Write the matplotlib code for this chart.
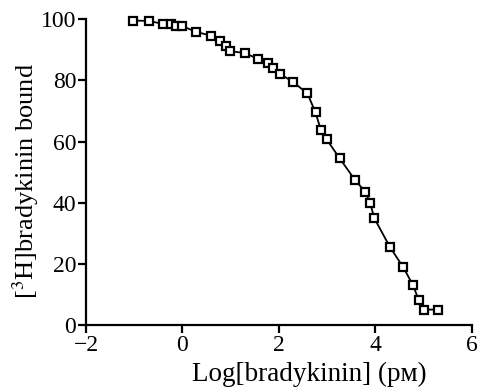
import numpy as np
import matplotlib
matplotlib.use('Agg')
import matplotlib.pyplot as plt

# Log[bradykinin] (pM) and percent [3H]bradykinin bound
log_bk = [-1.03, -0.70, -0.40, -0.24, -0.14, 0.00, 0.28, 0.59, 0.78, 0.90,
          0.99, 1.30, 1.57, 1.77, 1.87, 2.02, 2.29, 2.59, 2.76, 2.87,
          2.99, 3.26, 3.58, 3.79, 3.89, 3.98, 4.30, 4.58, 4.78, 4.90,
          5.01, 5.29]
bound = [99.5, 99.4, 98.4, 98.4, 97.7, 97.7, 95.8, 94.6, 92.7, 91.1,
         89.5, 88.9, 86.9, 85.7, 84.0, 82.1, 79.5, 75.7, 69.5, 63.7,
         60.7, 54.5, 47.4, 43.6, 40.0, 34.9, 25.6, 18.9, 13.1, 8.2,
         5.1, 5.1]

xticks = [-2, 0, 2, 4, 6]
yticks = [0, 20, 40, 60, 80, 100]

plt.rcParams['font.family'] = ['Liberation Serif', 'DejaVu Serif']
plt.rcParams['mathtext.fontset'] = 'stix'

fig = plt.figure(figsize=(4.78, 3.89), dpi=100)
ax = fig.add_axes([0.180, 0.164, 0.807, 0.787])

ax.plot(log_bk, bound, '-', color='black', lw=1.3,
        marker='s', ms=5.5, mfc='white', mec='black', mew=1.6,
        zorder=3, clip_on=False)

ax.set_xlim(-2, 6)
ax.set_ylim(0, 100)
ax.set_xticks(xticks)
ax.set_yticks(yticks)
ax.set_xticklabels([str(t).replace('-', '\u2212') for t in xticks])

for s in ['top', 'right']:
    ax.spines[s].set_visible(False)
for s in ['left', 'bottom']:
    ax.spines[s].set_linewidth(1.6)
ax.tick_params(direction='out', length=6, width=1.6, labelsize=17, pad=1)

ax.set_xlabel('Log[bradykinin] (p\u1d0d)', fontsize=19.5)
ax.set_ylabel(r'[$^{3}$H]bradykinin bound', fontsize=19)
ax.xaxis.set_label_coords(0.58, -0.12)
ax.yaxis.set_label_coords(-0.118, 0.47)

fig.savefig('out.png', dpi=100)
